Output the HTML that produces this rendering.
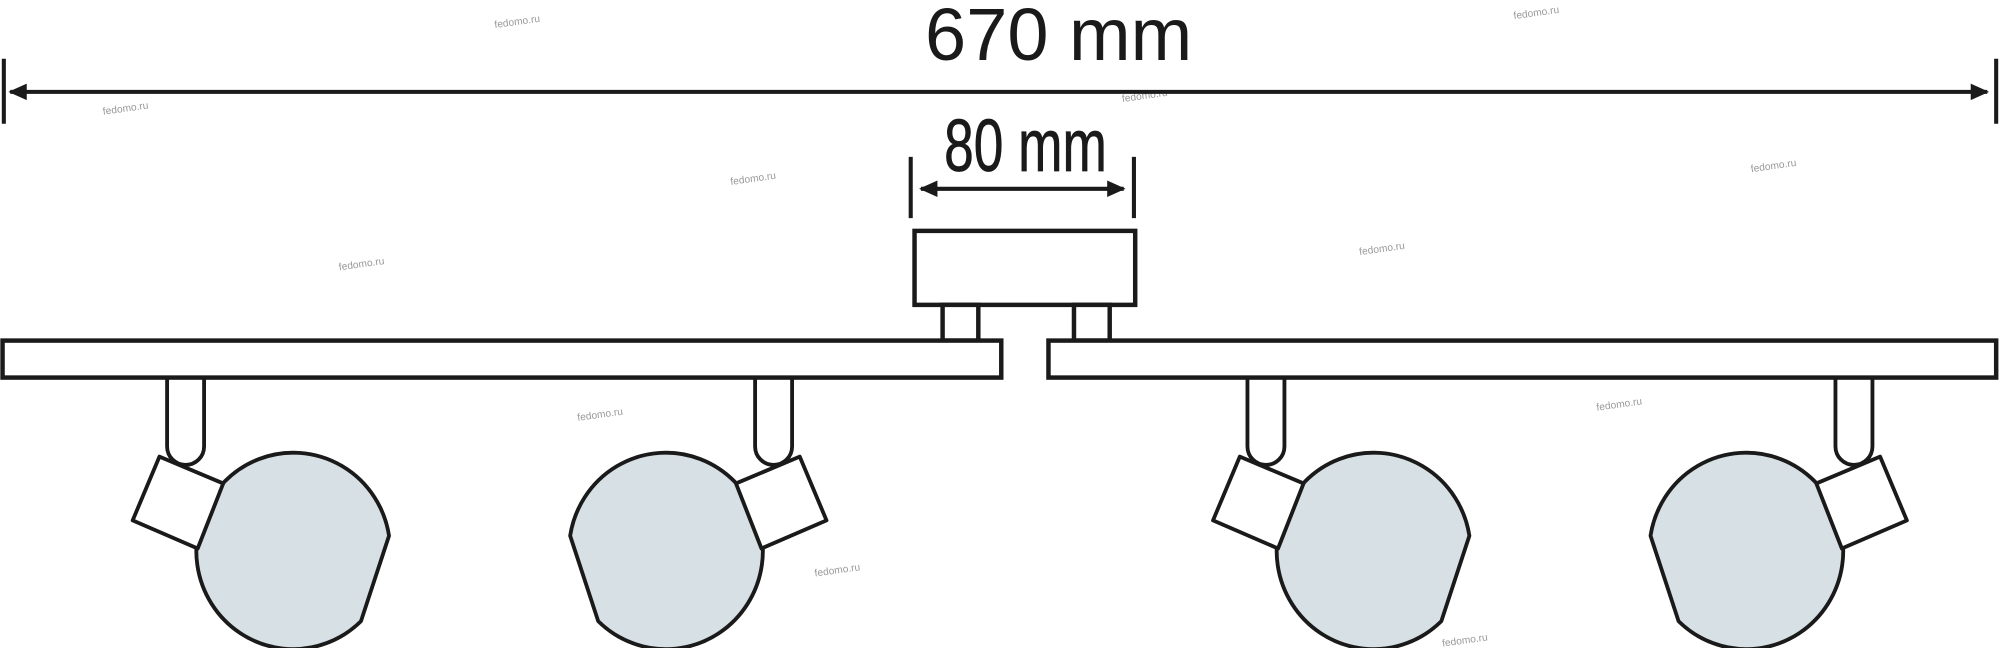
<!DOCTYPE html>
<html><head><meta charset="utf-8"><style>
html,body{margin:0;padding:0;background:#fff;}
svg{display:block;}
</style></head><body>
<svg width="2000" height="648" viewBox="0 0 1568 508" xmlns="http://www.w3.org/2000/svg">
<defs>
<g id="stem">
  <path d="M131 294 V350 a14.5 14.5 0 0 0 29 0 V294" fill="#fff" stroke="#1a1a1a" stroke-width="3"/>
</g>
<g id="spot">
  <path d="M305 420 L283 487 A76 77 0 1 1 305 420 Z" fill="#d7e0e4" stroke="#1a1a1a" stroke-width="3" stroke-linejoin="round"/>
  <path d="M104 408 L125 358 L175 379 L155 430 Z" fill="#fff" stroke="#1a1a1a" stroke-width="3" stroke-linejoin="round"/>
</g>
<marker id="ah" viewBox="0 0 10 10" refX="9" refY="5" markerWidth="7" markerHeight="4.5" orient="auto-start-reverse" markerUnits="strokeWidth">
  <path d="M0 0.5 L10 5 L0 9.5 Z" fill="#1a1a1a"/>
</marker>
</defs>
<g fill="#999" font-family="Liberation Sans, sans-serif" font-size="8">
<text x="388" y="22" transform="rotate(-8 388 22)">fedomo.ru</text>
<text x="1187" y="15" transform="rotate(-8 1187 15)">fedomo.ru</text>
<text x="81" y="90" transform="rotate(-8 81 90)">fedomo.ru</text>
<text x="880" y="80" transform="rotate(-8 880 80)">fedomo.ru</text>
<text x="573" y="145" transform="rotate(-8 573 145)">fedomo.ru</text>
<text x="1373" y="135" transform="rotate(-8 1373 135)">fedomo.ru</text>
<text x="266" y="212" transform="rotate(-8 266 212)">fedomo.ru</text>
<text x="1066" y="200" transform="rotate(-8 1066 200)">fedomo.ru</text>
<text x="453" y="330" transform="rotate(-8 453 330)">fedomo.ru</text>
<text x="1252" y="322" transform="rotate(-8 1252 322)">fedomo.ru</text>
<text x="639" y="452" transform="rotate(-8 639 452)">fedomo.ru</text>
<text x="1131" y="507" transform="rotate(-8 1131 507)">fedomo.ru</text>
</g>
<g stroke="#1a1a1a" stroke-width="3.2">
<line x1="3" y1="46" x2="3" y2="97"/>
<line x1="1565" y1="46" x2="1565" y2="97"/>
<line x1="8" y1="72" x2="1558" y2="72" marker-start="url(#ah)" marker-end="url(#ah)"/>
<line x1="714" y1="123" x2="714" y2="171"/>
<line x1="889" y1="123" x2="889" y2="171"/>
<line x1="722" y1="148" x2="881" y2="148" marker-start="url(#ah)" marker-end="url(#ah)"/>
</g>
<text x="830" y="47" text-anchor="middle" font-family="Liberation Sans, sans-serif" font-size="58" fill="#1a1a1a">670 mm</text>
<text x="0" y="0" text-anchor="middle" font-family="Liberation Sans, sans-serif" font-size="58" fill="#1a1a1a" stroke="#1a1a1a" stroke-width="0.6" transform="translate(804 134) scale(0.72 1)">80 mm</text>
<use href="#stem"/>
<use href="#stem" transform="translate(752 0) scale(-1 1)"/>
<use href="#stem" transform="translate(847 0)"/>
<use href="#stem" transform="translate(1599 0) scale(-1 1)"/>
<g fill="#fff" stroke="#1a1a1a" stroke-width="3.5">
<rect x="717" y="181" width="173" height="58"/>
<rect x="739" y="239" width="28" height="28"/>
<rect x="842" y="239" width="28" height="28"/>
<rect x="2" y="267" width="783" height="29"/>
<rect x="822" y="267" width="743" height="29"/>
</g>
<use href="#spot"/>
<use href="#spot" transform="translate(752 0) scale(-1 1)"/>
<use href="#spot" transform="translate(847 0)"/>
<use href="#spot" transform="translate(1599 0) scale(-1 1)"/>
</svg>
</body></html>
